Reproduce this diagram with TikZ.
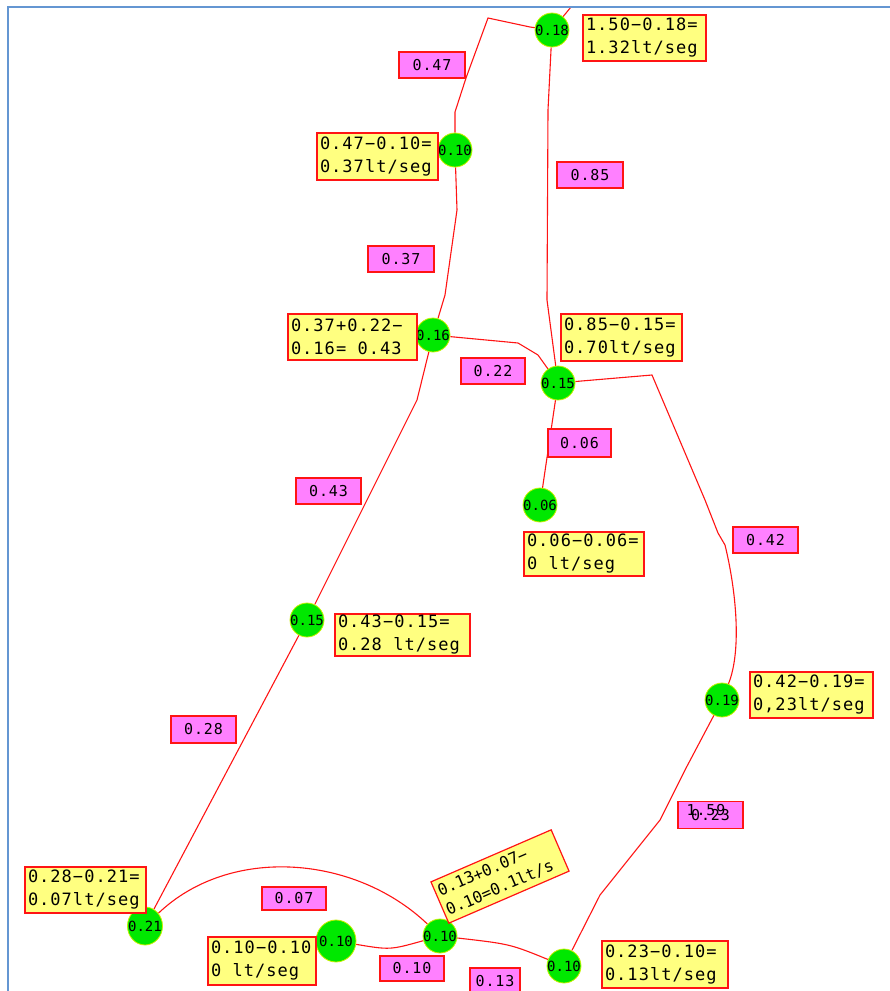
\documentclass[tikz,border=0pt]{standalone}
\usepackage{fontspec}
\usetikzlibrary{shapes.geometric}
\newfontfamily\monof[LetterSpace=6]{DejaVu Sans Mono}
\newfontfamily\monon{DejaVu Sans Mono}
\definecolor{pipered}{RGB}{255,20,20}
\definecolor{jgreen}{RGB}{0,232,0}
\definecolor{jedge}{RGB}{200,240,0}
\definecolor{flowfill}{RGB}{255,128,255}
\definecolor{calcfill}{RGB}{255,255,128}
\definecolor{framec}{RGB}{100,150,210}
\pgfdeclarelayer{background}
\pgfsetlayers{background,main}
\tikzset{
  pipe/.style={draw=pipered, line width=1.1pt},
  jn/.style={ellipse, fill=jgreen, draw=jedge, line width=0.8pt, minimum width=34pt, minimum height=34pt, inner sep=0pt},
  jtext/.style={inner sep=0pt, font=\monon\fontsize{14}{14}\selectfont},
  flow/.style={rectangle, fill=flowfill, draw=pipered, line width=1.2pt, inner sep=0pt, font=\monof\fontsize{15}{15}\selectfont},
  calcbox/.style={rectangle, fill=calcfill, draw=pipered, line width=1.2pt, inner xsep=3pt, inner ysep=0pt, align=left, font=\monof\fontsize{17}{23}\selectfont},
}
\begin{document}
\begin{tikzpicture}[x=1pt,y=-1pt]
\useasboundingbox (0,0) rectangle (890,991);
\begin{pgfonlayer}{background}
\fill[white] (0,0) rectangle (890,991);
\end{pgfonlayer}
\draw[framec, line width=2pt] (890,7) -- (8,7) -- (8,991);

% junctions
\node[jn, label={[jtext]center:0.18}] (n18) at (552,30) {};
\node[jn, label={[jtext]center:0.10}] (n10a) at (455,150) {};
\node[jn, label={[jtext]center:0.16}] (n16) at (433,335) {};
\node[jn, label={[jtext]center:0.15}] (n15a) at (558,383) {};
\node[jn, label={[jtext]center:0.06}] (n06) at (540,505) {};
\node[jn, label={[jtext]center:0.15}] (n15b) at (307,620) {};
\node[jn, label={[jtext]center:0.19}] (n19) at (722,700) {};
\node[jn, minimum width=35pt, minimum height=38pt, label={[jtext]center:0.21}] (n21) at (145,926) {};
\node[jn, minimum width=40pt, minimum height=42pt, label={[jtext]center:0.10}] (n10b) at (336,941) {};
\node[jn, label={[jtext]center:0.10}] (n10c) at (440,936) {};
\node[jn, label={[jtext]center:0.10}] (n10d) at (564,966) {};

\coordinate (top18) at (571,7);

% pipes
\begin{pgfonlayer}{background}
\draw[pipe] (n10a) -- (455,112) -- (466,78) -- (488,18) -- (530,27) -- (n18);
\draw[pipe] (n18) -- (top18);
\draw[pipe] (n18) -- (548,110) -- (547,300) -- (n15a);
\draw[pipe] (n10a) -- (457,210) -- (445,295) -- (n16);
\draw[pipe] (n16) -- (518,343) -- (538,355) -- (n15a);
\draw[pipe] (n15a) -- (652,375) -- (705,500) -- (718,533) -- (725,545) .. controls (736,590) and (742,650) .. (n19);
\draw[pipe] (n15a) -- (n06);
\draw[pipe] (n16) -- (417,400) -- (n15b);
\draw[pipe] (n15b) -- (n21);
\draw[pipe] (n21) .. controls (230,845) and (355,855) .. (n10c);
\draw[pipe] (n10b) .. controls (390,950) .. (n10c);
\draw[pipe] (n10c) .. controls (510,944) .. (n10d);
\draw[pipe] (n10d) -- (600,895) -- (660,820) -- (685,770) -- (n19);
\end{pgfonlayer}

% flow labels
\node[flow, minimum width=66pt, minimum height=26pt] (f47) at (432,65) {0.47};
\node[flow, minimum width=66pt, minimum height=26pt] (f85) at (590,175) {0.85};
\node[flow, minimum width=66pt, minimum height=26pt] (f37) at (401,259) {0.37};
\node[flow, minimum width=64pt, minimum height=26pt] (f22) at (493,371) {0.22};
\node[flow, minimum width=63pt, minimum height=28pt] (f06) at (579.5,443) {0.06};
\node[flow, minimum width=65pt, minimum height=26pt] (f43) at (328.5,491) {0.43};
\node[flow, minimum width=65pt, minimum height=26pt] (f42) at (765.5,540) {0.42};
\node[flow, minimum width=65pt, minimum height=27pt] (f28) at (203.5,729.5) {0.28};
\node[flow, minimum width=65pt, minimum height=27pt] (f23) at (710.5,815) {0.23};
\node[font=\monof\fontsize{15}{15}\selectfont, inner sep=0pt] (f159) at (706,810) {1.59};
\node[flow, minimum width=64pt, minimum height=23pt] (f07) at (294,898.5) {0.07};
\node[flow, minimum width=64pt, minimum height=25pt] (f10) at (412,968.5) {0.10};
\node[flow, minimum width=50pt, minimum height=26pt] (f13) at (495,981) {0.13};

% calculation boxes
\node[calcbox, text width=117pt, minimum height=46pt] (c18) at (644.5,38) {1.50−0.18=\\1.32lt/seg};
\node[calcbox, text width=115pt, minimum height=47pt] (c10a) at (377.5,156.5) {0.47−0.10=\\0.37lt/seg};
\node[calcbox, text width=123pt, minimum height=46pt] (c16) at (352.5,337) {0.37+0.22−\\0.16=\ \ 0.43};
\node[calcbox, text width=115pt, minimum height=47pt] (c15a) at (621.5,337.5) {0.85−0.15=\\0.70lt/seg};
\node[calcbox, text width=114pt, minimum height=44pt] (c06) at (584,554) {0.06−0.06=\\0\ \ lt/seg};
\node[calcbox, text width=129pt, minimum height=42pt] (c15b) at (402.5,635) {0.43−0.15=\\0.28\ \ lt/seg};
\node[calcbox, text width=117pt, minimum height=46pt] (c19) at (811.5,695) {0.42−0.19=\\0,23lt/seg};
\node[calcbox, text width=115pt, minimum height=46pt] (c21) at (85.5,890) {0.28−0.21=\\0.07lt/seg};
\node[calcbox, text width=102pt, minimum height=48pt] (c10b) at (262,961) {0.10−0.10\\0\ \ lt/seg};
\node[calcbox, text width=125pt, minimum height=45pt, rotate=23.4, font=\monon\fontsize{16}{21}\selectfont] (c10c) at (500,876.5) {0.13+0.07−\\0.10=0.1lt/s};
\node[calcbox, text width=120pt, minimum height=47pt] (c10d) at (665,964.5) {0.23−0.10=\\0.13lt/seg};
\end{tikzpicture}
\end{document}
